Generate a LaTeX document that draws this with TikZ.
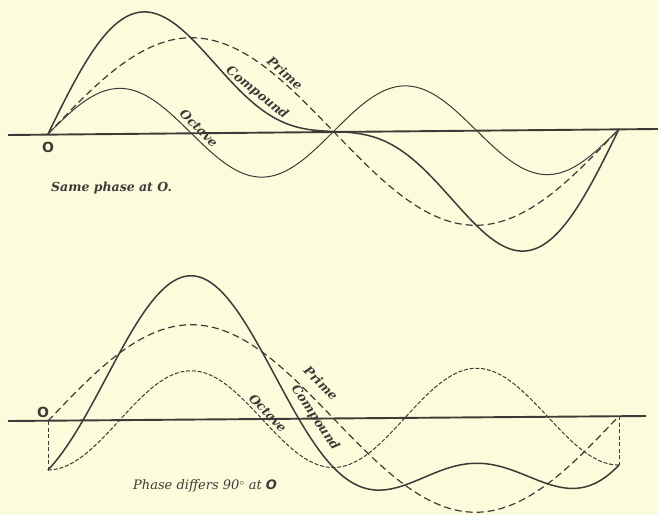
\documentclass[tikz,border=0pt]{standalone}
\usepackage{fontspec}
\setmainfont{DejaVu Serif}
\setsansfont{DejaVu Sans}
\definecolor{bgc}{RGB}{252,252,221}
\definecolor{inkc}{RGB}{66,56,56}
\begin{document}
\begin{tikzpicture}[x=1pt,y=-1pt,
  axisline/.style={draw=inkc, line width=1.9pt},
  primecurve/.style={draw=inkc, line width=1.2pt, dash pattern=on 7pt off 4pt},
  compcurve/.style={draw=inkc, line width=1.5pt},
  octcurve/.style={draw=inkc, line width=1pt},
  octdashed/.style={draw=inkc, line width=1pt, dash pattern=on 4pt off 1.8pt},
  dropline/.style={draw=inkc, line width=0.9pt, dash pattern=on 4pt off 2.5pt},
  lbl/.style={text=inkc, font=\fontsize{12.5}{12.5}\selectfont\bfseries\itshape, inner sep=0pt},
  caption/.style={text=inkc, inner sep=0pt, anchor=west},
  marker/.style={text=inkc, font=\fontsize{14}{14}\selectfont\sffamily\bfseries, inner sep=0pt},
]
\fill[bgc] (0,0) rectangle (658,515);
\useasboundingbox (0,0) rectangle (658,515);

% ---------- top figure: same phase ----------
\coordinate (tl) at (8,135);
\coordinate (tr) at (658,129);
\draw[axisline] (tl) -- (tr);
\draw[primecurve] plot[domain=0:360,samples=121,smooth] ({48+1.586111*\x},{134-0.013889*\x-95*sin(\x)});
\draw[octcurve] plot[domain=0:360,samples=181,smooth] ({48+1.586111*\x},{134-0.013889*\x-45*sin(2*\x)});
\draw[compcurve] plot[domain=0:360,samples=181,smooth] ({48+1.586111*\x},{134-0.013889*\x-95*sin(\x)-45*sin(2*\x)});
\node[marker] (o1) at (48,147) {O};
\node[lbl, rotate=-41] (tprime) at (285,73) {Prime};
\node[lbl, rotate=-39] (tcomp) at (257,93) {Compound};
\node[lbl, rotate=-45] (toct) at (199,128) {Octave};
\node[caption, font=\fontsize{12.5}{12.5}\selectfont\bfseries\itshape] (tcap) at (51,188) {Same phase at O.};

% ---------- bottom figure: phase differs 90 ----------
\coordinate (bl) at (8,421);
\coordinate (br) at (646,416);
\draw[axisline] (bl) -- (br);
\coordinate (d1a) at (48,421);
\coordinate (d1b) at (48,470);
\coordinate (d2a) at (619,416);
\coordinate (d2b) at (619,465);
\draw[dropline] (d1a) -- (d1b);
\draw[dropline] (d2a) -- (d2b);
\draw[primecurve] plot[domain=0:360,samples=121,smooth] ({48+1.586111*\x},{421-0.013889*\x-95*sin(\x)});
\draw[octdashed] plot[domain=0:360,samples=181,smooth] ({48+1.586111*\x},{421-0.013889*\x+49*cos(2*\x)});
\draw[compcurve] plot[domain=0:360,samples=181,smooth] ({48+1.586111*\x},{421-0.013889*\x-95*sin(\x)+49*cos(2*\x)});
\node[marker] (o2) at (43,412) {O};
\node[lbl, rotate=-45] (bprime) at (321,383) {Prime};
\node[lbl, rotate=-56] (bcomp) at (315,418) {Compound};
\node[lbl, rotate=-46] (boct) at (268,413) {Octave};
\node[caption, font=\fontsize{13}{13}\selectfont\itshape] (bcap) at (133,486) {Phase differs 90$^{\circ}$ at {\sffamily\bfseries O}};
\end{tikzpicture}
\end{document}
